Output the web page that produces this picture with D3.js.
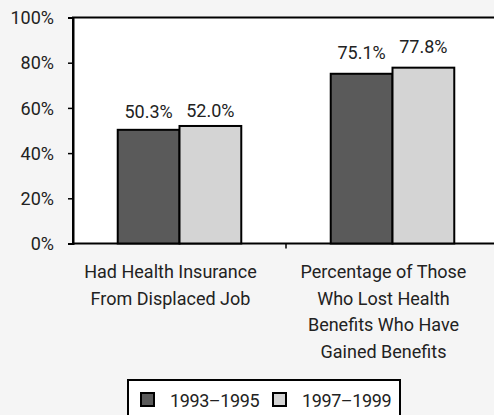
<!DOCTYPE html>
<html>
<head>
<meta charset="utf-8">
<script src="https://cdn.jsdelivr.net/npm/d3@7"></script>
<style>
  html, body { margin: 0; padding: 0; background: #f5f5f5; }
  svg { display: block; }
  text { font-family: Roboto, "Liberation Sans", sans-serif; fill: #222; }
</style>
</head>
<body>
<svg id="chart" width="494" height="415"></svg>
<script>
// Health insurance among displaced workers, two survey periods
const categories = [
  ["Had Health Insurance", "From Displaced Job"],
  ["Percentage of Those", "Who Lost Health", "Benefits Who Have", "Gained Benefits"]
];
const seriesNames = ["1993\u20131995", "1997\u20131999"];
const values1993 = [50.3, 75.1];
const values1997 = [52.0, 77.8];
const yTicks = [0, 20, 40, 60, 80, 100];
const colors = ["#5a5a5a", "#d4d4d4"];
// distance (px) between a value label's baseline and its bar top, per category / series
const labelGap = [[12, 8.5], [15, 15]];

const svg = d3.select("#chart");
const margin = { left: 73, top: 17.5, right: -5, bottom: 243.5 };
const W = 494, fontSize = 18;

const catIdx = categories.map((d, i) => i);
const x0 = d3.scaleBand().domain(catIdx).range([margin.left, W - margin.right]).padding(0);
const groupW = x0.bandwidth() * 0.58;
const x1 = d3.scaleBand().domain([0, 1])
  .range([(x0.bandwidth() - groupW) / 2, (x0.bandwidth() + groupW) / 2]).padding(0);
const y = d3.scaleLinear().domain([0, 100]).range([margin.bottom, margin.top]);

// plot area
svg.append("rect")
  .attr("x", margin.left).attr("y", margin.top)
  .attr("width", W - margin.right - margin.left + 10)
  .attr("height", margin.bottom - margin.top)
  .attr("fill", "#fff").attr("stroke", "#000").attr("stroke-width", 2);

// y axis
const yAxis = d3.axisLeft(y).tickValues(yTicks).tickFormat(d => d + "%")
  .tickSize(5).tickPadding(14);
const gy = svg.append("g").attr("transform", `translate(${margin.left},0)`).call(yAxis);
gy.select(".domain").attr("stroke", "#000").attr("stroke-width", 2);
gy.selectAll(".tick line").attr("stroke", "#000").attr("stroke-width", 1.5);
gy.selectAll(".tick text").attr("font-size", fontSize).attr("font-family", null)
  .attr("fill", "#222").attr("dy", "0.34em");

// category boundary ticks
svg.append("g").selectAll("line").data(catIdx.slice(1)).join("line")
  .attr("x1", d => x0(d)).attr("x2", d => x0(d))
  .attr("y1", margin.bottom).attr("y2", margin.bottom + 5)
  .attr("stroke", "#000").attr("stroke-width", 1.5);

// bars
const series = [values1993, values1997];
const groups = svg.append("g").selectAll("g").data(catIdx).join("g")
  .attr("transform", d => `translate(${x0(d)},0)`);
groups.selectAll("rect").data(c => series.map((s, k) => ({ c, k, v: s[c] }))).join("rect")
  .attr("x", d => x1(d.k)).attr("width", x1.bandwidth())
  .attr("y", d => y(d.v)).attr("height", d => y(0) - y(d.v))
  .attr("fill", d => colors[d.k]).attr("stroke", "#000").attr("stroke-width", 2);
groups.selectAll("text.val").data(c => series.map((s, k) => ({ c, k, v: s[c] }))).join("text")
  .attr("class", "val")
  .attr("x", d => x1(d.k) + x1.bandwidth() / 2)
  .attr("y", d => y(d.v) - labelGap[d.c][d.k])
  .attr("text-anchor", "middle").attr("font-size", fontSize)
  .text(d => d.v.toFixed(1) + "%");

// category labels
const lineH = 26.7;
svg.append("g").selectAll("text").data(catIdx).join("text")
  .attr("x", d => x0(d) + x0.bandwidth() / 2 - 9)
  .attr("y", 278)
  .attr("text-anchor", "middle").attr("font-size", fontSize)
  .selectAll("tspan").data(d => categories[d].map(t => ({ t, cx: x0(d) + x0.bandwidth() / 2 - 9 })))
  .join("tspan")
  .attr("x", d => d.cx).attr("dy", (d, i) => i === 0 ? 0 : lineH)
  .text(d => d.t);

// legend
const leg = svg.append("g");
leg.append("rect").attr("x", 128).attr("y", 380).attr("width", 272).attr("height", 50)
  .attr("fill", "#fff").attr("stroke", "#000").attr("stroke-width", 2);
const legX = [141, 273];
seriesNames.forEach((name, k) => {
  leg.append("rect").attr("x", legX[k]).attr("y", 393).attr("width", 13).attr("height", 13)
    .attr("fill", colors[k]).attr("stroke", "#000").attr("stroke-width", 2);
  leg.append("text").attr("x", legX[k] + 29).attr("y", 406.5)
    .attr("font-size", fontSize).attr("letter-spacing", -0.4).text(name);
});
</script>
</body>
</html>
